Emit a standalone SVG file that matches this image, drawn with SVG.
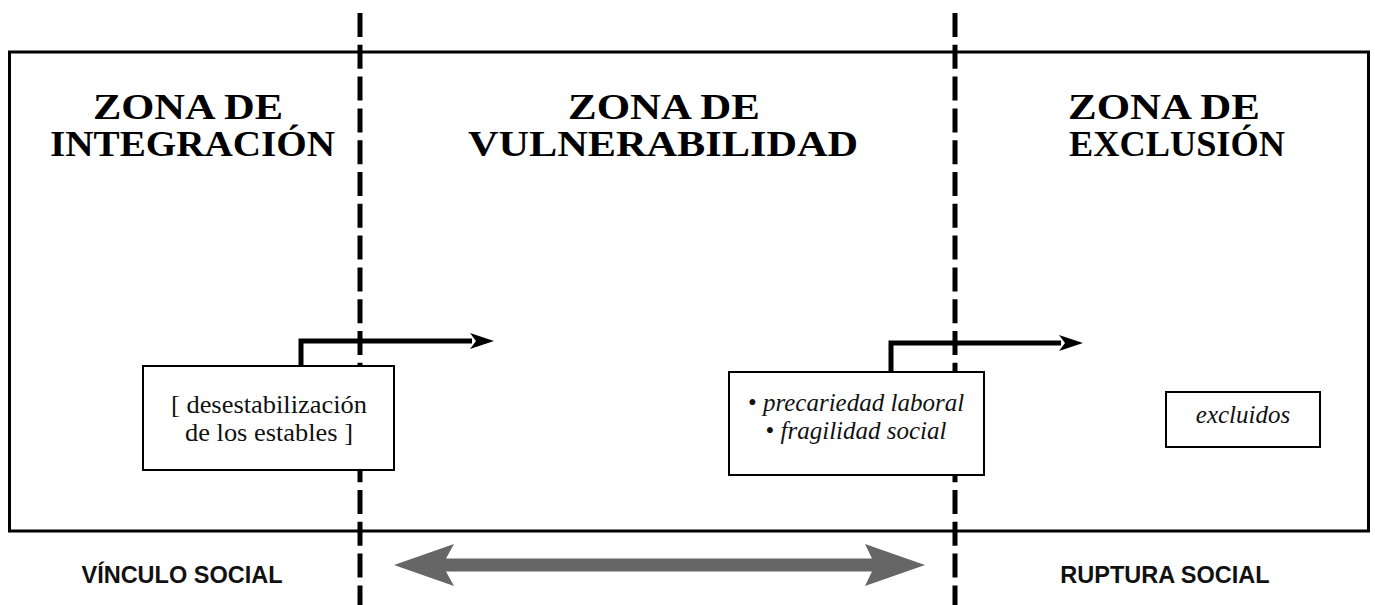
<svg xmlns="http://www.w3.org/2000/svg" width="1375" height="605" viewBox="0 0 1375 605">
  <defs>
    <style>
      .title { font-family: "Liberation Serif", "Times New Roman", serif; font-weight: bold; font-size: 36px; fill: #000; }
      .foot { font-family: "Liberation Sans", Arial, sans-serif; font-weight: bold; font-size: 23.5px; fill: #111; text-anchor: middle; }
      .box { fill: #fff; stroke: #000; stroke-width: 2; }
      .btext { font-family: "Liberation Serif", "Times New Roman", serif; font-size: 25px; fill: #111; text-anchor: middle; }
      .it { font-style: italic; }
      .dash { stroke: #000; stroke-width: 5; stroke-dasharray: 24 7.8; fill: none; }
      .conn { stroke: #000; stroke-width: 5; fill: none; }
    </style>
    <marker id="ah" viewBox="0 0 24 16" refX="2" refY="8" markerWidth="24" markerHeight="16" markerUnits="userSpaceOnUse" orient="auto">
      <path d="M0,0 L24,8 L0,16 L6,8 Z" fill="#000"/>
    </marker>
  </defs>
  <rect width="1375" height="605" fill="#fff"/>

  <g id="frame">
    <rect x="9.5" y="52" width="1359" height="479" fill="none" stroke="#000" stroke-width="3"/>
  </g>

  <g id="dividers">
    <line class="dash" x1="360" y1="13" x2="360" y2="605"/>
    <line class="dash" x1="955" y1="13" x2="955" y2="605"/>
  </g>

  <g id="zona-integracion">
    <text class="title" x="93" y="119" textLength="190" lengthAdjust="spacingAndGlyphs">ZONA DE</text>
    <text class="title" x="50" y="156" textLength="285" lengthAdjust="spacingAndGlyphs">INTEGRACIÓN</text>
  </g>
  <g id="zona-vulnerabilidad">
    <text class="title" x="568" y="119" textLength="192" lengthAdjust="spacingAndGlyphs">ZONA DE</text>
    <text class="title" x="468" y="156" textLength="390" lengthAdjust="spacingAndGlyphs">VULNERABILIDAD</text>
  </g>
  <g id="zona-exclusion">
    <text class="title" x="1068" y="119" textLength="192" lengthAdjust="spacingAndGlyphs">ZONA DE</text>
    <text class="title" x="1069" y="156" textLength="216" lengthAdjust="spacingAndGlyphs">EXCLUSIÓN</text>
  </g>

  <g id="connectors">
    <path class="conn" d="M301,366 V341 H472" marker-end="url(#ah)"/>
    <path class="conn" d="M891,372 V343 H1061" marker-end="url(#ah)"/>
    <polygon fill="#666" points="394,565 454,544 446,558.5 872,558.5 865,544 925,565 865,586 872,571.5 446,571.5 454,586"/>
  </g>

  <g id="box-desestabilizacion">
    <rect class="box" x="143" y="366" width="251" height="104"/>
    <text class="btext" x="269" y="413" textLength="196" lengthAdjust="spacingAndGlyphs">[ desestabilización</text>
    <text class="btext" x="269" y="441" textLength="168" lengthAdjust="spacingAndGlyphs">de los estables ]</text>
  </g>
  <g id="box-precariedad">
    <rect class="box" x="729" y="372" width="255" height="103"/>
    <text class="btext" x="856" y="411">• <tspan class="it">precariedad laboral</tspan></text>
    <text class="btext" x="856" y="439">• <tspan class="it">fragilidad social</tspan></text>
  </g>
  <g id="box-excluidos">
    <rect class="box" x="1166" y="392" width="154" height="55"/>
    <text class="btext it" x="1243" y="423">excluidos</text>
  </g>

  <g id="vinculo-social">
    <text class="foot" x="182" y="583">VÍNCULO SOCIAL</text>
  </g>
  <g id="ruptura-social">
    <text class="foot" x="1165" y="583">RUPTURA SOCIAL</text>
  </g>
</svg>
